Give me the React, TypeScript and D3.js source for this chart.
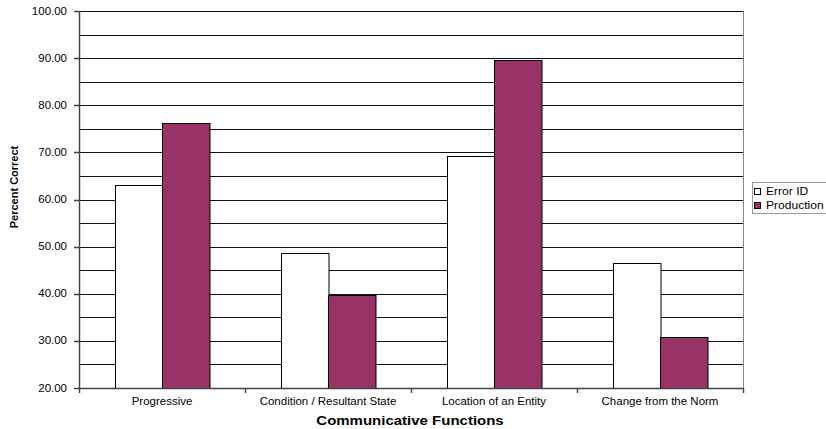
import React from "react";
import * as d3 from "d3";

const categories = ["Progressive", "Condition / Resultant State", "Location of an Entity", "Change from the Norm"];
const seriesNames = ["Error ID", "Production"];
const errorId = [63.0, 48.6, 69.2, 46.5];
const production = [76.2, 39.7, 89.6, 30.9];
const yTicks = [20, 30, 40, 50, 60, 70, 80, 90, 100];
const gridValues = [25, 30, 35, 40, 45, 50, 55, 60, 65, 70, 75, 80, 85, 90, 95, 100];
const colors = ["#ffffff", "#993366"];

const SX = 1.15;

function HText(props: { x: number; y: number; anchor?: string; size: number; bold?: boolean; children: React.ReactNode; dy?: string; sx?: number }) {
  return (
    <text transform={`translate(${props.x},${props.y}) scale(${props.sx || SX},1)`} textAnchor={props.anchor || "start"}
      fontSize={props.size} fontWeight={props.bold ? "bold" : "normal"} dy={props.dy} fill="#000">{props.children}</text>
  );
}

export default function App() {
  const W = 826, H = 429;
  const left = 79, right = 743, top = 11, bottom = 388;
  const x = d3.scaleBand<string>().domain(categories).range([left, right]).paddingInner(0).paddingOuter(0);
  const y = d3.scaleLinear().domain([20, 100]).range([bottom, top]);
  const barW = 47.5;
  const font = "'Liberation Sans', Arial, sans-serif";
  const series = [errorId, production];
  return (
    <svg width={W} height={H} style={{ position: "absolute", left: 0, top: 0, background: "#fff" }} fontFamily={font}>
      {gridValues.map((v) => (
        <line key={v} x1={left} x2={right} y1={Math.round(y(v)) + 0.5} y2={Math.round(y(v)) + 0.5} stroke="#111" strokeWidth={1} />
      ))}
      <line x1={right + 0.5} x2={right + 0.5} y1={top} y2={bottom} stroke="#888" strokeWidth={1} />
      {categories.map((c, i) => {
        const cx = x(c)! + x.bandwidth() / 2;
        return series.map((s, j) => {
          const bx = cx - barW + j * barW;
          return (
            <rect key={c + j} x={Math.round(bx) + 0.5} y={Math.round(y(s[i])) + 0.5} width={barW}
              height={bottom - Math.round(y(s[i]))} fill={colors[j]} stroke="#000" strokeWidth={1} />
          );
        });
      })}
      <line x1={left + 0.5} x2={left + 0.5} y1={top} y2={bottom + 1} stroke="#444" strokeWidth={1.5} />
      <line x1={left} x2={right} y1={bottom + 0.5} y2={bottom + 0.5} stroke="#444" strokeWidth={1.5} />
      {yTicks.map((v) => (
        <g key={v}>
          <line x1={left - 5} x2={left} y1={Math.round(y(v)) + 0.5} y2={Math.round(y(v)) + 0.5} stroke="#444" strokeWidth={1.5} />
          <HText x={67} y={y(v)} dy="0.35em" anchor="end" size={10}>{v.toFixed(2)}</HText>
        </g>
      ))}
      {d3.range(categories.length + 1).map((i) => {
        const xx = left + i * x.bandwidth();
        return <line key={i} x1={xx + 0.5} x2={xx + 0.5} y1={bottom} y2={bottom + 5} stroke="#444" strokeWidth={1.5} />;
      })}
      {categories.map((c) => (
        <HText key={c} x={x(c)! + x.bandwidth() / 2} y={405} anchor="middle" size={10}>{c}</HText>
      ))}
      <HText x={410} y={425} anchor="middle" size={12.5} bold sx={1.2}>Communicative Functions</HText>
      <text transform={`translate(18,187) rotate(-90)`} textAnchor="middle" fontSize={11} fontWeight="bold" fill="#000">Percent Correct</text>
      <rect x={752.5} y={182.5} width={80} height={31} fill="#fff" stroke="#999" strokeWidth={1} />
      {seriesNames.map((n, j) => (
        <g key={n}>
          <rect x={754.5} y={188.5 + j * 14} width={6} height={6} fill={colors[j]} stroke="#000" strokeWidth={1} />
          <HText x={766} y={191.5 + j * 14} dy="0.35em" size={10.5}>{n}</HText>
        </g>
      ))}
    </svg>
  );
}
